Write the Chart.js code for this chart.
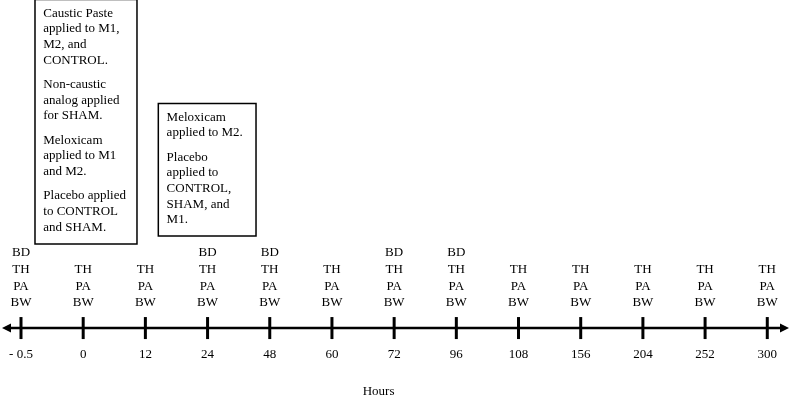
<!DOCTYPE html>
<html>
<head>
<meta charset="utf-8">
<script src="https://cdn.jsdelivr.net/npm/chart.js@4/dist/chart.umd.min.js"></script>
<style>
  html, body { margin: 0; padding: 0; background: #fff; }
  #wrap { width: 790px; height: 400px; }
</style>
</head>
<body>
<div id="wrap"><canvas id="timeline"></canvas></div>
<script>
// time points (hours) along the axis
const hours = ['- 0.5', '0', '12', '24', '48', '60', '72', '96', '108', '156', '204', '252', '300'];
// measurements taken at each time point (top to bottom)
const measures = [
  ['BD', 'TH', 'PA', 'BW'],
  ['TH', 'PA', 'BW'],
  ['TH', 'PA', 'BW'],
  ['BD', 'TH', 'PA', 'BW'],
  ['BD', 'TH', 'PA', 'BW'],
  ['TH', 'PA', 'BW'],
  ['BD', 'TH', 'PA', 'BW'],
  ['BD', 'TH', 'PA', 'BW'],
  ['TH', 'PA', 'BW'],
  ['TH', 'PA', 'BW'],
  ['TH', 'PA', 'BW'],
  ['TH', 'PA', 'BW'],
  ['TH', 'PA', 'BW']
];
// treatment notes
const note1 = [
  ['Caustic Paste', 'applied to M1,', 'M2, and', 'CONTROL.'],
  ['Non-caustic', 'analog applied', 'for SHAM.'],
  ['Meloxicam', 'applied to M1', 'and M2.'],
  ['Placebo applied', 'to CONTROL', 'and SHAM.']
];
const note2 = [
  ['Meloxicam', 'applied to M2.'],
  ['Placebo', 'applied to', 'CONTROL,', 'SHAM, and', 'M1.']
];
const axisTitle = 'Hours';

const FONT = "'Liberation Serif', 'Times New Roman', serif";
Chart.defaults.font.family = FONT;
Chart.defaults.font.size = 13;
Chart.defaults.color = '#000';

const step = 62.19; // px between time points
const xMin = -21 / step;
const xMax = xMin + 790 / step;

// box placement, x in time-point index units, y in px
const boxes = [
  { notes: note1, from: 0.225, to: 1.865, top: -0.5, bottom: 244 },
  { notes: note2, from: 2.208, to: 3.779, top: 103.5, bottom: 236 }
];

const timelinePlugin = {
  id: 'timeline',
  afterDraw(chart) {
    const { ctx } = chart;
    const xs = chart.scales.x;
    const y0 = chart.scales.y.getPixelForValue(0);
    ctx.save();

    // main axis with arrowheads
    ctx.strokeStyle = '#000';
    ctx.fillStyle = '#000';
    ctx.lineWidth = 2.5;
    ctx.beginPath();
    ctx.moveTo(6, y0);
    ctx.lineTo(784, y0);
    ctx.stroke();
    ctx.beginPath();
    ctx.moveTo(2, y0);
    ctx.lineTo(11, y0 - 4.5);
    ctx.lineTo(11, y0 + 4.5);
    ctx.closePath();
    ctx.fill();
    ctx.beginPath();
    ctx.moveTo(789, y0);
    ctx.lineTo(780, y0 - 4.5);
    ctx.lineTo(780, y0 + 4.5);
    ctx.closePath();
    ctx.fill();

    // measurement stacks above each tick
    ctx.font = '13px ' + FONT;
    ctx.textAlign = 'center';
    ctx.textBaseline = 'middle';
    measures.forEach((stack, i) => {
      const x = xs.getPixelForValue(i);
      const n = stack.length;
      stack.forEach((m, k) => {
        ctx.fillText(m, x, y0 - 25 - (n - 1 - k) * 16.9);
      });
    });

    // note boxes
    ctx.textAlign = 'left';
    ctx.lineWidth = 1.5;
    boxes.forEach(b => {
      const left = xs.getPixelForValue(b.from);
      const right = xs.getPixelForValue(b.to);
      ctx.fillStyle = '#fff';
      ctx.fillRect(left, b.top, right - left, b.bottom - b.top);
      ctx.strokeRect(left, b.top, right - left, b.bottom - b.top);
      ctx.fillStyle = '#000';
      let y = b.top + 13.6;
      b.notes.forEach((para, p) => {
        if (p > 0) y += 8.6;
        para.forEach(line => {
          ctx.fillText(line, left + 8.3, y);
          y += 15.7;
        });
      });
    });

    // axis title
    ctx.textAlign = 'center';
    ctx.fillText(axisTitle, xs.getPixelForValue(5.75), 392);
    ctx.restore();
  }
};

new Chart(document.getElementById('timeline'), {
  type: 'scatter',
  data: {
    datasets: [{
      data: hours.map((h, i) => ({ x: i, y: 0 })),
      pointStyle: 'line',
      rotation: 90,
      pointRadius: 11,
      pointHoverRadius: 11,
      borderWidth: 3,
      borderColor: '#000',
      backgroundColor: '#000',
      clip: false
    }]
  },
  options: {
    responsive: true,
    maintainAspectRatio: false,
    animation: false,
    events: [],
    layout: { autoPadding: false, padding: { left: 0, right: 0, top: 0, bottom: 34.1 } },
    plugins: { legend: { display: false }, tooltip: { enabled: false } },
    scales: {
      x: {
        type: 'linear',
        min: xMin,
        max: xMax,
        grid: { display: false, drawTicks: false },
        border: { display: false },
        ticks: {
          stepSize: 1,
          includeBounds: false,
          autoSkip: false,
          maxRotation: 0,
          padding: 4,
          color: '#000',
          font: { size: 13 },
          callback: v => hours[v] !== undefined ? hours[v] : ''
        }
      },
      y: {
        display: false,
        min: -1,
        max: 23.03
      }
    }
  },
  plugins: [timelinePlugin]
});
</script>
</body>
</html>
